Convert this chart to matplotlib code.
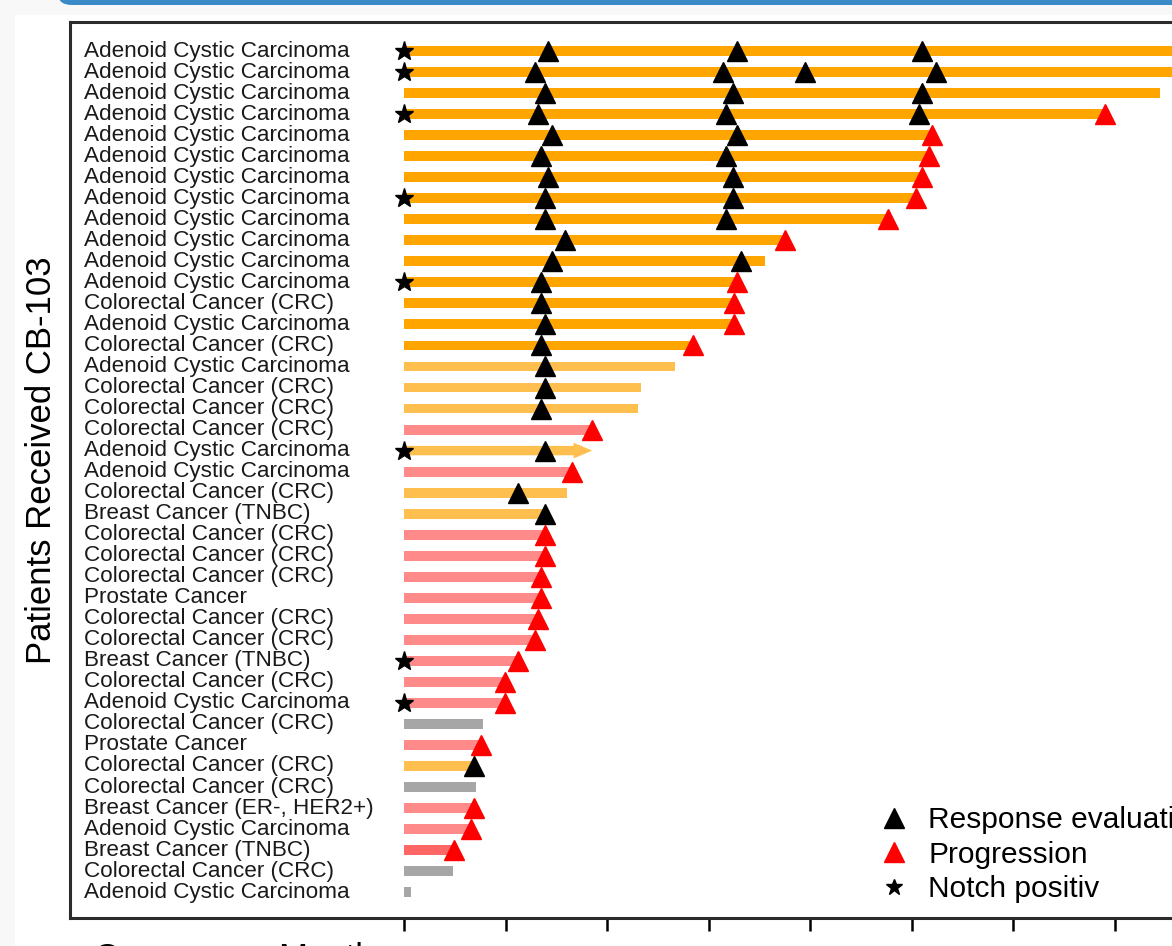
import matplotlib
matplotlib.use("Agg")
import matplotlib.pyplot as plt
from matplotlib.lines import Line2D
from matplotlib.patches import Rectangle, FancyBboxPatch

plt.rcParams["font.family"] = ["Liberation Sans", "DejaVu Sans"]

# 患者 (top -> bottom)
ACC = "Adenoid Cystic Carcinoma"
CRC = "Colorectal Cancer (CRC)"
TNBC = "Breast Cancer (TNBC)"
PROS = "Prostate Cancer"
HER2 = "Breast Cancer (ER-, HER2+)"

patients = [ACC, ACC, ACC, ACC, ACC, ACC, ACC, ACC, ACC, ACC, ACC, ACC,
            CRC, ACC, CRC, ACC, CRC, CRC, CRC, ACC, ACC, CRC, TNBC,
            CRC, CRC, CRC, PROS, CRC, CRC, TNBC, CRC, ACC, CRC, PROS,
            CRC, CRC, HER2, ACC, TNBC, CRC, ACC]

# months on treatment
duration = [25.5, 25.5, 22.35, 20.72, 15.61, 15.52, 15.31, 15.13, 14.31, 11.26,
            10.67, 9.84, 9.75, 9.75, 8.54, 8.01, 7.01, 6.92, 5.56, 5.56,
            4.97, 4.82, 4.10, 4.17, 4.17, 4.05, 4.05, 3.96, 3.87, 3.37,
            2.99, 2.99, 2.34, 2.28, 2.07, 2.13, 2.07, 1.98, 1.48, 1.45, 0.21]

# bar group: a = long-term, b = stable, c = progressive, d = early progression, g = not evaluable
group = ["a"] * 15 + ["b", "b", "b", "c", "b", "c", "b", "b",
                      "c", "c", "c", "c", "c", "c", "c", "c", "c", "g", "c",
                      "b", "g", "c", "c", "d", "g", "g"]

response_eval = [
    [4.26, 9.84, 15.31],
    [3.87, 9.43, 11.85, 15.73],
    [4.17, 9.73, 15.31],
    [3.96, 9.52, 15.22],
    [4.37, 9.84],
    [4.05, 9.52],
    [4.26, 9.73],
    [4.17, 9.73],
    [4.17, 9.52],
    [4.76],
    [4.37, 9.96],
    [4.05], [4.05], [4.17], [4.05], [4.17], [4.17], [4.05],
    [],
    [4.17],
    [],
    [3.37],
    [4.17],
    [], [], [], [], [], [], [], [], [], [], [],
    [2.07],
    [], [], [], [], [], [],
]

progression = [None, None, None, 20.72, 15.61, 15.52, 15.31, 15.13, 14.31, 11.26,
               None, 9.84, 9.75, 9.75, 8.54, None, None, None, 5.56, None,
               4.97, None, None, 4.17, 4.17, 4.05, 4.05, 3.96, 3.87, 3.37,
               2.99, 2.99, None, 2.28, None, None, 2.07, 1.98, 1.48, None, None]

notch_positive = [0, 1, 3, 7, 11, 19, 29, 31]
ongoing = [19]

colors = {"a": "#FFA500", "b": "#FFBF4F", "c": "#FF8A8A", "d": "#FF6666", "g": "#A6A6A6"}

fig = plt.figure(figsize=(11.72, 9.46), dpi=100, facecolor="#F8F8F8")

# slide background pieces
fig.patches.append(Rectangle((15 / 1172, 0), 1, 1 - 15 / 946, transform=fig.transFigure,
                             facecolor="white", edgecolor="none", zorder=-5))
fig.patches.append(FancyBboxPatch((58 / 1172, 1 - 5 / 946), 1.2, 0.05,
                                  boxstyle="round,pad=0,rounding_size=0.012",
                                  transform=fig.transFigure, facecolor="#3B8AC8",
                                  edgecolor="none", zorder=-4))

ax = fig.add_axes([70 / 1172, 28 / 946, 1120 / 1172, 896 / 946])
ax.set_facecolor("white")

rows = list(range(len(patients)))
bar_h = 0.47

for i in rows:
    c = colors[group[i]]
    if i in ongoing:
        ax.arrow(0, i, duration[i], 0, width=bar_h * 0.95, head_width=0.75,
                 head_length=0.55, length_includes_head=True, color=c, lw=0, zorder=2)
    else:
        ax.barh(i, duration[i], height=bar_h, left=0, color=c, zorder=2)

    ax.text(-9.46, i, patients[i], fontsize=16.2, va="center", ha="left", color="#1a1a1a")

    for r in response_eval[i]:
        ax.plot(r, i, marker="^", color="black", markersize=14, linestyle="none", zorder=4)
    if progression[i] is not None:
        ax.plot(progression[i], i, marker="^", color="red", markersize=14,
                linestyle="none", zorder=4)

for i in notch_positive:
    ax.plot(0, i, marker="*", color="black", markersize=14, linestyle="none", zorder=5)

ax.set_xlim(-9.873, 23.23)
ax.set_ylim(41.23, -1.384)
ax.set_xticks([0, 3, 6, 9, 12, 15, 18, 21])
ax.tick_params(axis="x", direction="out", length=9, width=1.8, labelbottom=False)
ax.set_yticks([])
for s in ax.spines.values():
    s.set_linewidth(2.2)
    s.set_color("#2b2b2b")

handles = [
    Line2D([], [], marker="^", color="black", linestyle="none", markersize=14),
    Line2D([], [], marker="^", color="red", linestyle="none", markersize=14),
    Line2D([], [], marker="*", color="black", linestyle="none", markersize=12),
]
ax.legend(handles, ["Response evaluation", "Progression", "Notch positiv"],
          loc="upper left", bbox_to_anchor=(879 / 1172, 1 - 806 / 946),
          bbox_transform=fig.transFigure, frameon=False, fontsize=21.5,
          handlelength=1.0, handletextpad=0.65, borderpad=0, borderaxespad=0,
          labelspacing=0.22)

fig.text(42 / 1172, 1 - 460 / 946, "Patients Received CB-103", rotation=90,
         ha="center", va="center", fontsize=25)
fig.text(93 / 1172, 1 - 942 / 946, "Course", ha="left", va="top", fontsize=25)
fig.text(278 / 1172, 1 - 942 / 946, "Months", ha="left", va="top", fontsize=25)

fig.savefig("out.png", dpi=100)
